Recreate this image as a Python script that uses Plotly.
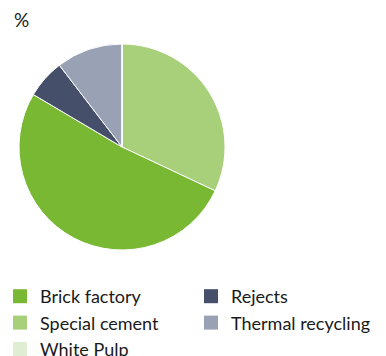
import plotly.graph_objects as go

slice_labels = ["Special cement", "Brick factory", "Rejects", "Thermal recycling", "White Pulp"]
slice_values = [32.0, 51.5, 6.1, 10.4, 0.0]
slice_colors = ["#a8d07a", "#78b833", "#454f69", "#99a1b4", "#dfeed3"]

legend_labels = ["Brick factory", "Rejects", "Special cement", "Thermal recycling", "White Pulp"]
color_map = dict(zip(slice_labels, slice_colors))

# the page body adds an 8px margin, so the figure is sized to fit inside it
W, H = 378, 348
fig = go.Figure()
fig.add_trace(go.Pie(
    labels=slice_labels, values=slice_values, sort=False, direction="clockwise",
    rotation=0, textinfo="none", hoverinfo="label+value",
    marker=dict(colors=slice_colors, line=dict(color="white", width=1)),
    showlegend=False,
    domain=dict(x=[11 / W, 217 / W], y=[1 - 242 / H, 1 - 36 / H]),
))
for lab in legend_labels:
    fig.add_trace(go.Scatter(
        x=[None], y=[None], mode="markers", name=lab,
        marker=dict(symbol="square", size=14, color=color_map[lab]),
    ))

fig.update_layout(
    width=W, height=H, margin=dict(l=0, r=0, t=0, b=0, autoexpand=False),
    paper_bgcolor="white", plot_bgcolor="white",
    font=dict(family="Lato", size=18, color="#1a1a1a"),
    xaxis=dict(visible=False), yaxis=dict(visible=False),
    legend=dict(orientation="h", x=0, xanchor="left", y=1 - 270 / H, yanchor="top",
                entrywidth=154, entrywidthmode="pixels", traceorder="normal",
                indentation=-8,
                font=dict(size=18), itemsizing="trace", tracegroupgap=0),
    annotations=[dict(text="%", x=5 / W, y=1 + 1 / H, xref="paper", yref="paper",
                      xanchor="left", yanchor="top", showarrow=False, borderpad=0,
                      font=dict(size=19))],
)
fig.write_html("out.html")
